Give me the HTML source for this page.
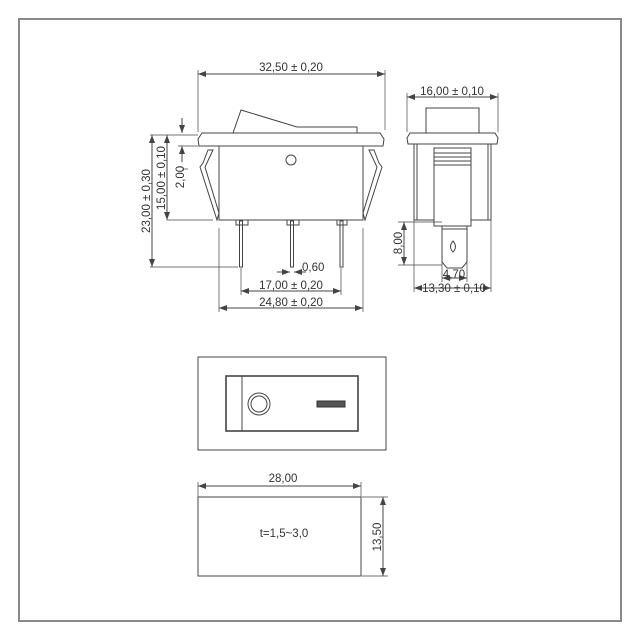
<!DOCTYPE html>
<html><head><style>
html,body{margin:0;padding:0;background:#fff;}
svg{display:block;}
text{font-family:"Liberation Sans",sans-serif;font-size:11.5px;fill:#333;}
</style></head><body>
<svg width="640" height="640" viewBox="0 0 640 640" xmlns="http://www.w3.org/2000/svg">
<defs>
<marker id="a" markerWidth="8" markerHeight="6" refX="8" refY="3" orient="auto-start-reverse" markerUnits="userSpaceOnUse"><path d="M0,0 L8,3 L0,6 z" fill="#444"/></marker>
</defs>
<rect x="19" y="19" width="602" height="602" fill="#fff" stroke="#888" stroke-width="2"/>
<g stroke="#444" stroke-width="1" fill="none">
<line x1="198" y1="74" x2="385" y2="74" marker-start="url(#a)" marker-end="url(#a)"/>
<line x1="198" y1="70" x2="198" y2="132" stroke-width="0.7"/>
<line x1="385" y1="70" x2="385" y2="130" stroke-width="0.7"/>
<polygon points="233,133 241,110 297,127 357,127 357,133" fill="#fff"/>
<polygon points="202,133 380,133 384,139 383,146 199,146 198,139" fill="#fff"/>
<rect x="219" y="146" width="144" height="74" fill="#fff"/>
<circle cx="291" cy="160" r="5"/>
<polygon points="208,150 213,150 205,167 219,213 217,220 200,167 203,163" fill="#fff"/>
<polygon points="374,150 369,150 377,167 363,213 365,220 382,167 379,163" fill="#fff"/>
<rect x="239.5" y="221" width="3" height="46" fill="#fff"/>
<rect x="290.5" y="221" width="3" height="46" fill="#fff"/>
<rect x="340" y="221" width="3" height="46" fill="#fff"/>
<path d="M236,220 v5 h12 v-5 M287,220 v5 h12 v-5 M337,220 v5 h10 v-5"/>
<line x1="150" y1="135" x2="198" y2="135" stroke-width="0.7"/>
<line x1="167" y1="220" x2="213" y2="220" stroke-width="0.7"/>
<line x1="150" y1="267" x2="238" y2="267" stroke-width="0.7"/>
<line x1="178" y1="146" x2="198" y2="146" stroke-width="0.7"/>
<line x1="152" y1="135" x2="152" y2="267" marker-start="url(#a)" marker-end="url(#a)"/>
<line x1="167" y1="135" x2="167" y2="220" marker-start="url(#a)" marker-end="url(#a)"/>
<line x1="182" y1="118" x2="182" y2="133" marker-end="url(#a)"/>
<line x1="182" y1="162" x2="182" y2="146" marker-end="url(#a)"/>
<line x1="182" y1="169" x2="188" y2="169" stroke-width="0.7"/>
<line x1="219" y1="228" x2="219" y2="312" stroke-width="0.7"/>
<line x1="363" y1="228" x2="363" y2="312" stroke-width="0.7"/>
<line x1="241" y1="268" x2="241" y2="295" stroke-width="0.7"/>
<line x1="341" y1="268" x2="341" y2="295" stroke-width="0.7"/>
<line x1="277" y1="272" x2="290" y2="272" marker-end="url(#a)"/>
<line x1="306" y1="272" x2="294" y2="272" marker-end="url(#a)"/>
<line x1="241" y1="291" x2="341" y2="291" marker-start="url(#a)" marker-end="url(#a)"/>
<line x1="219" y1="308" x2="363" y2="308" marker-start="url(#a)" marker-end="url(#a)"/>
<line x1="407" y1="97" x2="498" y2="97" marker-start="url(#a)" marker-end="url(#a)"/>
<line x1="407" y1="93" x2="407" y2="132" stroke-width="0.7"/>
<line x1="498" y1="93" x2="498" y2="132" stroke-width="0.7"/>
<rect x="426" y="108" width="53" height="25" fill="#fff"/>
<polygon points="410,133 495,133 498,138 497,144 408,144 407,138" fill="#fff"/>
<rect x="414" y="144" width="77" height="76" fill="#fff"/>
<path d="M417,144 v76 M488,144 v76"/>
<rect x="434" y="148" width="37" height="78" fill="#fff"/>
<path d="M434,153 h37 M434,157 h37 M434,161 h37 M434,165 h37"/>
<polygon points="442,226 467,226 467,262 462,268 447,268 442,262" fill="#fff"/>
<path d="M442,229 h25"/>
<path d="M453,241 q5,6 0,11 q-5,-5 0,-11 z"/>
<line x1="398" y1="222" x2="442" y2="222" stroke-width="0.7"/>
<line x1="398" y1="265" x2="442" y2="265" stroke-width="0.7"/>
<line x1="404" y1="222" x2="404" y2="265" marker-start="url(#a)" marker-end="url(#a)"/>
<line x1="442" y1="262" x2="442" y2="282" stroke-width="0.7"/>
<line x1="467" y1="262" x2="467" y2="282" stroke-width="0.7"/>
<line x1="442" y1="278" x2="467" y2="278" marker-start="url(#a)" marker-end="url(#a)"/>
<line x1="414" y1="220" x2="414" y2="292" stroke-width="0.7"/>
<line x1="491" y1="220" x2="491" y2="292" stroke-width="0.7"/>
<line x1="414" y1="288" x2="491" y2="288" marker-start="url(#a)" marker-end="url(#a)"/>
<rect x="198" y="357" width="188" height="93" fill="#fff"/>
<rect x="226" y="376" width="132" height="55" stroke-width="1.6" fill="#fff"/>
<line x1="242" y1="376" x2="242" y2="431"/>
<circle cx="259" cy="404" r="11"/>
<circle cx="259" cy="404" r="8"/>
<rect x="317" y="401" width="28" height="6" fill="#555" stroke="#333"/>
<rect x="198" y="497" width="163" height="79" fill="#fff"/>
<line x1="198" y1="486" x2="361" y2="486" marker-start="url(#a)" marker-end="url(#a)"/>
<line x1="198" y1="482" x2="198" y2="497" stroke-width="0.7"/>
<line x1="361" y1="482" x2="361" y2="497" stroke-width="0.7"/>
<line x1="362" y1="497" x2="388" y2="497" stroke-width="0.7"/>
<line x1="362" y1="576" x2="388" y2="576" stroke-width="0.7"/>
<line x1="383" y1="497" x2="383" y2="576" marker-start="url(#a)" marker-end="url(#a)"/>
</g>
<text x="291" y="71" text-anchor="middle">32,50 ± 0,20</text>
<text x="452" y="95" text-anchor="middle">16,00 ± 0,10</text>
<text x="302" y="271">0,60</text>
<text x="291" y="289" text-anchor="middle">17,00 ± 0,20</text>
<text x="291" y="306" text-anchor="middle">24,80 ± 0,20</text>
<text x="454" y="278" text-anchor="middle">4,70</text>
<text x="454" y="292" text-anchor="middle">13,30 ± 0,10</text>
<text transform="translate(150,201) rotate(-90)" text-anchor="middle">23,00 ± 0,30</text>
<text transform="translate(165,178) rotate(-90)" text-anchor="middle">15,00 ± 0,10</text>
<text transform="translate(184,177) rotate(-90)" text-anchor="middle">2,00</text>
<text transform="translate(402,243) rotate(-90)" text-anchor="middle">8,00</text>
<text x="283" y="482" text-anchor="middle">28,00</text>
<text x="284" y="537" text-anchor="middle">t=1,5~3,0</text>
<text transform="translate(381,537) rotate(-90)" text-anchor="middle">13,50</text>
</svg>
</body></html>
